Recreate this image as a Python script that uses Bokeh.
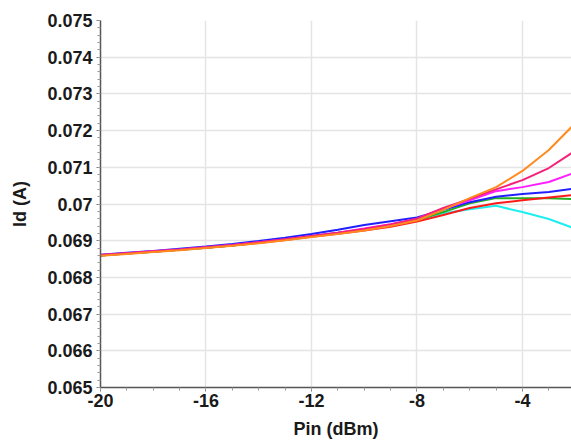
from bokeh.plotting import figure
from bokeh.models import FixedTicker, Range1d
from bokeh.embed import file_html
from bokeh.resources import INLINE

# ---- data ----
pin = [-20, -19, -18, -17, -16, -15, -14, -13, -12, -11, -10, -9, -8, -7, -6, -5, -4, -3, -2]

id_orange = [0.06859, 0.06864, 0.06869, 0.06874, 0.06880, 0.06886, 0.06893, 0.06901, 0.06910, 0.06918,
             0.06928, 0.06940, 0.06955, 0.06984, 0.07016, 0.07046, 0.07090, 0.07147, 0.07220]
id_pink = [0.06861, 0.06866, 0.06871, 0.06876, 0.06882, 0.06888, 0.06896, 0.06904, 0.06913, 0.06922,
           0.06932, 0.06944, 0.06960, 0.06989, 0.07014, 0.07040, 0.07065, 0.07098, 0.07145]
id_magenta = [0.06861, 0.06866, 0.06871, 0.06876, 0.06882, 0.06888, 0.06896, 0.06904, 0.06913, 0.06922,
              0.06933, 0.06945, 0.06960, 0.06987, 0.07010, 0.07035, 0.07046, 0.07060, 0.07086]
id_blue = [0.06862, 0.06867, 0.06872, 0.06878, 0.06884, 0.06891, 0.06899, 0.06908, 0.06918, 0.06930,
           0.06943, 0.06953, 0.06963, 0.06984, 0.07005, 0.07020, 0.07027, 0.07033, 0.07042]
id_green = [0.06860, 0.06865, 0.06870, 0.06875, 0.06881, 0.06887, 0.06895, 0.06903, 0.06912, 0.06921,
            0.06931, 0.06942, 0.06956, 0.06978, 0.07002, 0.07016, 0.07016, 0.07016, 0.07013]
id_red = [0.06860, 0.06865, 0.06870, 0.06875, 0.06881, 0.06887, 0.06894, 0.06902, 0.06911, 0.06919,
          0.06928, 0.06938, 0.06952, 0.06970, 0.06989, 0.07002, 0.07010, 0.07018, 0.07025]
id_cyan = [0.06860, 0.06865, 0.06870, 0.06875, 0.06881, 0.06887, 0.06895, 0.06903, 0.06912, 0.06921,
           0.06931, 0.06942, 0.06957, 0.06975, 0.06986, 0.06995, 0.06978, 0.06959, 0.06933]

x_ticks = [-20, -16, -12, -8, -4]
x_tick_labels = ["-20", "-16", "-12", "-8", "-4"]
y_ticks = [0.065, 0.066, 0.067, 0.068, 0.069, 0.07, 0.071, 0.072, 0.073, 0.074, 0.075]
y_tick_labels = ["0.065", "0.066", "0.067", "0.068", "0.069", "0.07", "0.071", "0.072", "0.073", "0.074", "0.075"]

series = [
    (id_cyan, "#1EEEF0"),
    (id_green, "#22B022"),
    (id_red, "#FF1A1A"),
    (id_blue, "#2020FF"),
    (id_magenta, "#FF1EFF"),
    (id_pink, "#F5207A"),
    (id_orange, "#FF8A1E"),
]

p = figure(width=571, height=441, output_backend="svg", toolbar_location=None,
           x_range=Range1d(-20, -2.14), y_range=Range1d(0.065, 0.075),
           min_border_left=100, min_border_top=20, min_border_bottom=53, min_border_right=0)
p.outline_line_color = None
p.background_fill_color = "white"

for ys, c in series:
    p.line(pin, ys, line_color=c, line_width=2)

font = "Liberation Sans"
p.xaxis.ticker = FixedTicker(ticks=x_ticks, minor_ticks=list(range(-20, -1)))
p.xaxis.major_label_overrides = {v: l for v, l in zip(x_ticks, x_tick_labels)}
minor_y = [round(0.065 + i * 0.0002, 4) for i in range(51)]
p.yaxis.ticker = FixedTicker(ticks=y_ticks, minor_ticks=minor_y)
p.yaxis.major_label_overrides = {v: l for v, l in zip(y_ticks, y_tick_labels)}

for ax in (p.xaxis[0], p.yaxis[0]):
    ax.axis_line_color = "#555555"
    ax.axis_line_width = 1.5
    ax.major_tick_line_color = "#777777"
    ax.minor_tick_line_color = "#999999"
    ax.major_tick_in = 0
    ax.major_tick_out = 4
    ax.minor_tick_in = 0
    ax.minor_tick_out = 3
    ax.major_label_text_font = font
    ax.major_label_text_font_style = "bold"
    ax.major_label_text_font_size = "18px"
    ax.major_label_text_color = "#1a1a1a"
    ax.axis_label_text_font = font
    ax.axis_label_text_font_style = "bold"
    ax.axis_label_text_font_size = "18px"
    ax.axis_label_text_color = "#1a1a1a"

p.xaxis.axis_label = "Pin (dBm)"
p.yaxis.axis_label = "Id (A)"
p.xaxis.major_label_standoff = 2
p.xaxis.axis_label_standoff = 9
p.yaxis.major_label_standoff = 4
p.yaxis.axis_label_standoff = 14

p.xgrid.ticker = FixedTicker(ticks=x_ticks)
p.ygrid.ticker = FixedTicker(ticks=y_ticks)
p.grid.grid_line_color = "#e4e4e4"
p.grid.grid_line_width = 1.5

open("out.html", "w").write(file_html(p, INLINE))
